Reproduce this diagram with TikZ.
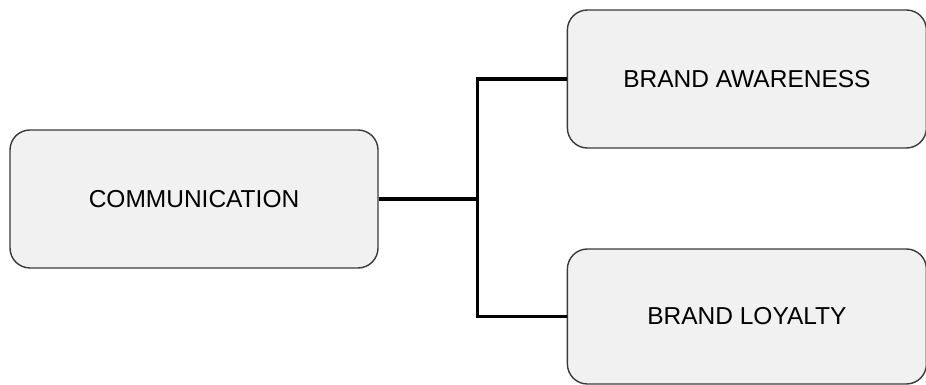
\documentclass[tikz,border=0pt]{standalone}
\usepackage{fontspec}
\setmainfont{Liberation Sans}
\usetikzlibrary{positioning, calc}
\definecolor{boxfill}{HTML}{F1F1F1}
\definecolor{boxline}{HTML}{3A3A3A}
\tikzset{
	box/.style={rectangle, draw=boxline, fill=boxfill, line width=1.4pt, rounded corners=20pt, minimum height=138pt, align=center, font=\fontsize{24.5}{29}\selectfont},
	link/.style={draw=black, line width=3.2pt}
}

\begin{document}
\begin{tikzpicture}[x=1pt, y=1pt]
	\useasboundingbox (0,0) rectangle (926,385);
	
	% Left - source node
	\node[box, minimum width=368pt] (comm) at (194,186) {COMMUNICATION};
	
	% Right - the two outcomes
	\node[box, minimum width=359pt, right=188pt of comm, yshift=120pt] (aware) {BRAND AWARENESS};
	\node[box, minimum width=359pt, minimum height=135pt, right=188pt of comm, yshift=-117.5pt] (loyal) {BRAND LOYALTY};
	
	% Branching connector
	\coordinate (fork) at ($(comm.east)+(99,0)$);
	\draw[link] (comm.east) -- (fork);
	\draw[link] (fork) |- (aware.west);
	\draw[link] (fork) |- (loyal.west);
	
\end{tikzpicture}
\end{document}
